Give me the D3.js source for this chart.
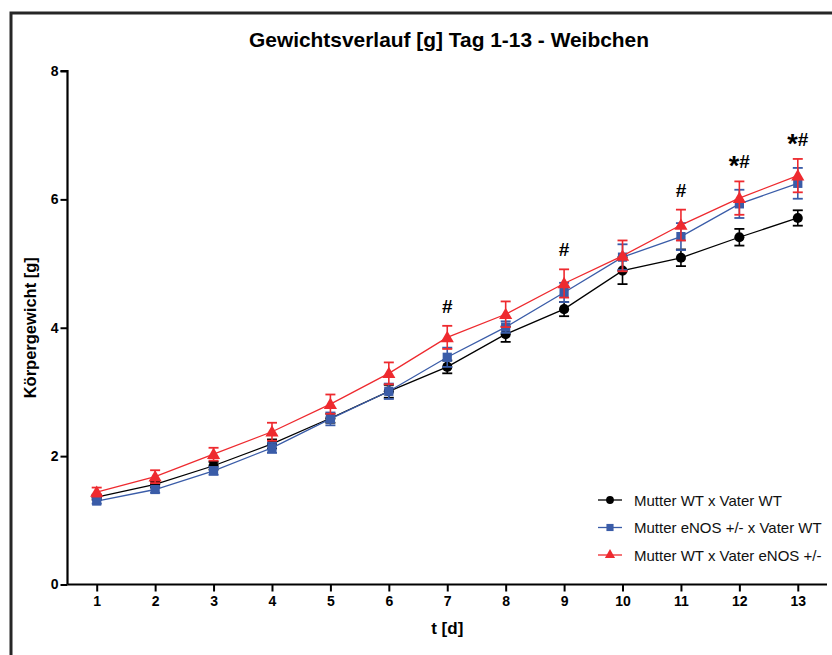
<!DOCTYPE html>
<html>
<head>
<meta charset="utf-8">
<script src="https://cdn.jsdelivr.net/npm/d3@7"></script>
<style>
  html, body { margin: 0; padding: 0; background: #fff; }
  svg { display: block; font-family: "Liberation Sans", Arial, sans-serif; }
</style>
</head>
<body>
<svg id="chart" width="832" height="655"></svg>
<script>
// Days of measurement
const days = [1, 2, 3, 4, 5, 6, 7, 8, 9, 10, 11, 12, 13];

// Mean body weight [g] per group
const wtWt      = [1.36, 1.56, 1.85, 2.19, 2.59, 3.01, 3.39, 3.90, 4.29, 4.89, 5.09, 5.41, 5.71];
const enosWt    = [1.30, 1.48, 1.77, 2.13, 2.58, 3.01, 3.54, 4.01, 4.55, 5.10, 5.42, 5.93, 6.25];
const wtEnos    = [1.44, 1.68, 2.03, 2.38, 2.81, 3.29, 3.85, 4.21, 4.69, 5.12, 5.60, 6.02, 6.37];

// Standard error of the mean per group
const wtWtErr   = [0.04, 0.05, 0.06, 0.07, 0.07, 0.10, 0.10, 0.12, 0.11, 0.21, 0.13, 0.13, 0.12];
const enosWtErr = [0.04, 0.05, 0.06, 0.08, 0.10, 0.12, 0.15, 0.09, 0.15, 0.20, 0.21, 0.22, 0.24];
const wtEnosErr = [0.07, 0.10, 0.10, 0.14, 0.15, 0.17, 0.18, 0.20, 0.22, 0.24, 0.24, 0.26, 0.26];

const seriesNames = ["Mutter WT x Vater WT", "Mutter eNOS +/- x Vater WT", "Mutter WT x Vater eNOS +/-"];

// Significance marks above selected days
const sigDays   = [7, 9, 11, 12, 13];
const sigLabels = ["#", "#", "#", "*#", "*#"];

const yTicks = [0, 2, 4, 6, 8];

const groups = [
  { name: seriesNames[0], values: wtWt,   errs: wtWtErr,   color: "#000000", symbol: "circle" },
  { name: seriesNames[1], values: enosWt, errs: enosWtErr, color: "#3a5ca8", symbol: "square" },
  { name: seriesNames[2], values: wtEnos, errs: wtEnosErr, color: "#ee2a2f", symbol: "triangle" }
];

const svg = d3.select("#chart");

// Outer frame (open on the right and bottom edges of the page)
svg.append("path")
  .attr("d", "M11,655 L11,13 L832,13")
  .attr("fill", "none")
  .attr("stroke", "#262626")
  .attr("stroke-width", 3);

const x = d3.scaleLinear().domain([0.5, 13.5]).range([67.5, 827]);
const y = d3.scaleLinear().domain([0, 8]).range([584.5, 71]);

// Title
svg.append("text")
  .attr("x", 449).attr("y", 47)
  .attr("text-anchor", "middle")
  .attr("font-size", 20.5).attr("font-weight", "bold")
  .attr("textLength", 400).attr("lengthAdjust", "spacingAndGlyphs")
  .text("Gewichtsverlauf [g] Tag 1-13 - Weibchen");

// Y axis
const yAxis = svg.append("g")
  .attr("transform", `translate(${x(0.5)},0)`)
  .call(d3.axisLeft(y).tickValues(yTicks).tickFormat(d3.format("d")).tickSize(7).tickPadding(2));
yAxis.select(".domain").attr("stroke-width", 2.2).attr("d", `M-7,${y(8)}H0V${y(0)}`);
yAxis.selectAll(".tick line").attr("stroke-width", 2);
yAxis.selectAll(".tick text").attr("font-size", 14).attr("font-weight", "bold")
  .attr("font-family", "Liberation Sans, Arial, sans-serif").attr("fill", "#000");

// X axis
const xAxis = svg.append("g")
  .attr("transform", `translate(0,${y(0)})`)
  .call(d3.axisBottom(x).tickValues(days).tickFormat(d3.format("d")).tickSize(7).tickPadding(5));
xAxis.select(".domain").attr("stroke-width", 2.2).attr("d", `M${x(0.5)},0H${x(13.5)}`);
xAxis.selectAll(".tick line").attr("stroke-width", 2);
xAxis.selectAll(".tick text").attr("font-size", 14).attr("font-weight", "bold")
  .attr("font-family", "Liberation Sans, Arial, sans-serif").attr("fill", "#000");

// Axis titles
svg.append("text")
  .attr("x", x(7)).attr("y", 634)
  .attr("text-anchor", "middle")
  .attr("font-size", 17).attr("font-weight", "bold")
  .text("t [d]");

svg.append("text")
  .attr("transform", `translate(36,${y(4)}) rotate(-90)`)
  .attr("text-anchor", "middle")
  .attr("font-size", 16.5).attr("font-weight", "bold")
  .text("Körpergewicht [g]");

const symbolType = { circle: d3.symbolCircle, square: d3.symbolSquare, triangle: d3.symbolTriangle };
const symbolSize = { circle: 80, square: 85, triangle: 75 };

const line = d3.line().x((d, i) => x(days[i])).y(d => y(d));

groups.forEach(g => {
  const layer = svg.append("g");
  // error bars with caps
  days.forEach((day, i) => {
    const cx = x(day), v = g.values[i], e = g.errs[i];
    const top = y(v + e), bot = y(v - e);
    layer.append("line").attr("x1", cx).attr("x2", cx).attr("y1", top).attr("y2", bot)
      .attr("stroke", g.color).attr("stroke-width", 1.6);
    [top, bot].forEach(yy => layer.append("line")
      .attr("x1", cx - 5).attr("x2", cx + 5).attr("y1", yy).attr("y2", yy)
      .attr("stroke", g.color).attr("stroke-width", 1.8));
  });
  layer.append("path").attr("d", line(g.values))
    .attr("fill", "none").attr("stroke", g.color).attr("stroke-width", 1.3);
  layer.selectAll("path.pt").data(g.values).join("path")
    .attr("class", "pt")
    .attr("transform", (d, i) => `translate(${x(days[i])},${y(d) + (g.symbol === "triangle" ? 1 : 0)})`)
    .attr("d", d3.symbol(symbolType[g.symbol], symbolSize[g.symbol]))
    .attr("fill", g.color);
});

// Significance labels above the highest error bar of each day
sigDays.forEach((day, k) => {
  const i = days.indexOf(day);
  const top = d3.max(groups, g => g.values[i] + g.errs[i]);
  const t = svg.append("text")
    .attr("x", x(day)).attr("y", y(top) - 13)
    .attr("text-anchor", "middle")
    .attr("font-weight", "bold").attr("font-size", 19);
  const label = sigLabels[k];
  for (const ch of label) {
    t.append("tspan").attr("font-size", ch === "*" ? 27 : 19)
      .attr("dy", ch === "*" ? 7 : (label.length > 1 ? -7 : 0)).text(ch);
  }
});

// Legend
const legend = svg.append("g");
groups.forEach((g, k) => {
  const ly = 500 + k * 27.5;
  const row = legend.append("g").attr("transform", `translate(0,${ly})`);
  row.append("line").attr("x1", 598).attr("x2", 622).attr("y1", 0).attr("y2", 0)
    .attr("stroke", g.color).attr("stroke-width", 1.3);
  row.append("path").attr("transform", "translate(610,0)")
    .attr("d", d3.symbol(symbolType[g.symbol], symbolSize[g.symbol] * 0.6))
    .attr("fill", g.color);
  row.append("text").attr("x", 634).attr("y", 5.5)
    .attr("font-size", 15).attr("fill", "#111").text(g.name);
});
</script>
</body>
</html>
